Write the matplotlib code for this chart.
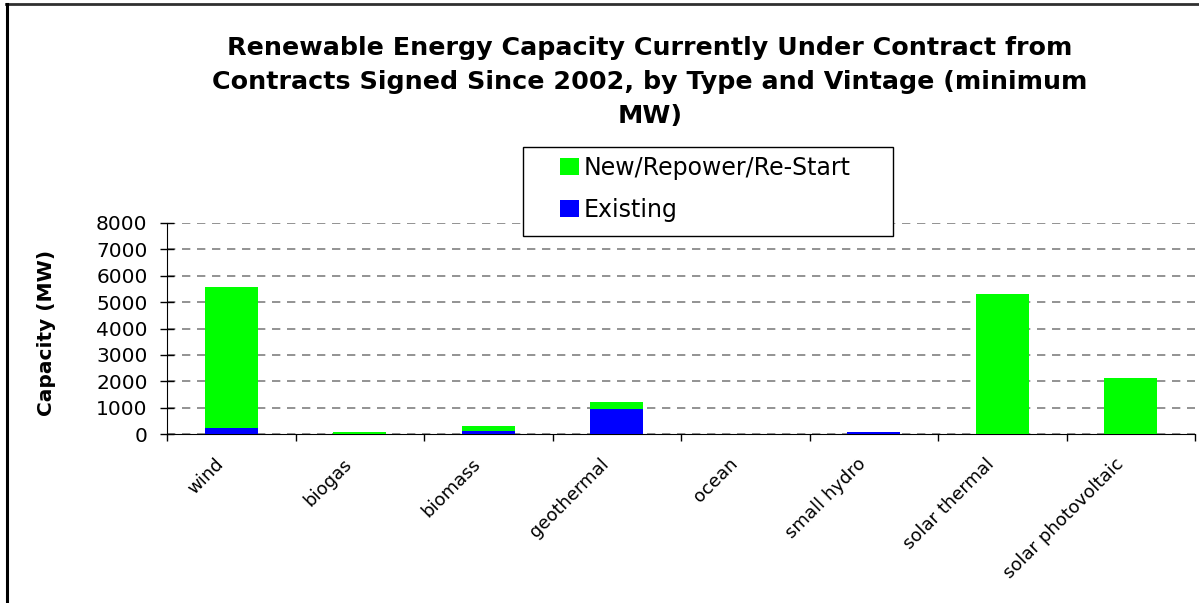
import numpy as np
import matplotlib
matplotlib.use('Agg')
import matplotlib.pyplot as plt
import matplotlib.transforms as mtransforms
from matplotlib.ticker import FixedLocator
from matplotlib.patches import Rectangle
from matplotlib.lines import Line2D

categories = ["wind", "biogas", "biomass", "geothermal", "ocean",
              "small hydro", "solar thermal", "solar photovoltaic"]
existing = [230, 0, 110, 950, 0, 75, 0, 0]
new_repower = [5340, 60, 205, 260, 0, 0, 5300, 2120]

plt.rcParams['font.family'] = ['DejaVu Sans']

W, H = 1199, 603
fig = plt.figure(figsize=(W / 100, H / 100), dpi=100)
ax = fig.add_axes([167 / W, 1 - 434 / H, 1028 / W, 211 / H])

# outer frame: only the top and left edges show
fig.add_artist(Line2D([6 / W, 1], [1 - 3.5 / H, 1 - 3.5 / H], transform=fig.transFigure,
                      color='#303030', linewidth=2))
fig.add_artist(Line2D([7 / W, 7 / W], [0, 1 - 3.5 / H], transform=fig.transFigure,
                      color='black', linewidth=2.2))

x = np.arange(len(categories))
w = 0.41
ax.bar(x, existing, w, color='#0000ff', label='Existing', zorder=3)
ax.bar(x, new_repower, w, bottom=existing, color='#00ff00',
       label='New/Repower/Re-Start', zorder=3)

ax.set_xlim(-0.5, len(categories) - 0.5)
ax.set_ylim(0, 8000)
ax.set_yticks(np.arange(0, 8001, 1000))
ax.tick_params(axis='y', labelsize=14.5, direction='inout', length=10, width=1, pad=9)
ax.yaxis.grid(True, linestyle=(0, (5, 4)), color='#808080', linewidth=1.2, zorder=0)

ax.set_xticks(x)
ax.set_xticklabels(categories, rotation=45, ha='right', va='top',
                   rotation_mode='anchor', fontsize=13)
ax.tick_params(axis='x', which='major', length=0, pad=15)
shift = mtransforms.ScaledTranslation(-12 / 72, 0, fig.dpi_scale_trans)
for lbl in ax.get_xticklabels():
    lbl.set_transform(lbl.get_transform() + shift)
ax.xaxis.set_minor_locator(FixedLocator(np.arange(-0.5, len(categories), 1)))
ax.tick_params(axis='x', which='minor', length=5, width=1, direction='out')

for s in ['top', 'right']:
    ax.spines[s].set_visible(False)

ax.set_ylabel('Capacity (MW)', fontsize=14.5, fontweight='bold')
ax.yaxis.set_label_coords((56 - 167) / 1028, 0.48)

fig.text(650 / W, 1 - 82 / H,
         'Renewable Energy Capacity Currently Under Contract from\n'
         'Contracts Signed Since 2002, by Type and Vintage (minimum\nMW)',
         ha='center', va='center', fontsize=18.3, fontweight='bold', linespacing=1.55)

# legend box drawn separately so it can be sized freely
box = Rectangle((523 / W, 1 - 236 / H), 370 / W, 89 / H, transform=fig.transFigure,
                facecolor='white', edgecolor='black', linewidth=1, zorder=5)
fig.add_artist(box)
handles, labels = ax.get_legend_handles_labels()
leg = fig.legend(handles[::-1], labels[::-1], loc='upper left',
                 bbox_to_anchor=(560 / W, 1 - 156 / H), fontsize=17,
                 frameon=False, handlelength=0.8, handleheight=0.75,
                 handletextpad=0.2, labelspacing=0.75, borderpad=0, borderaxespad=0)
leg.set_zorder(6)

fig.savefig('out.png', dpi=100)
